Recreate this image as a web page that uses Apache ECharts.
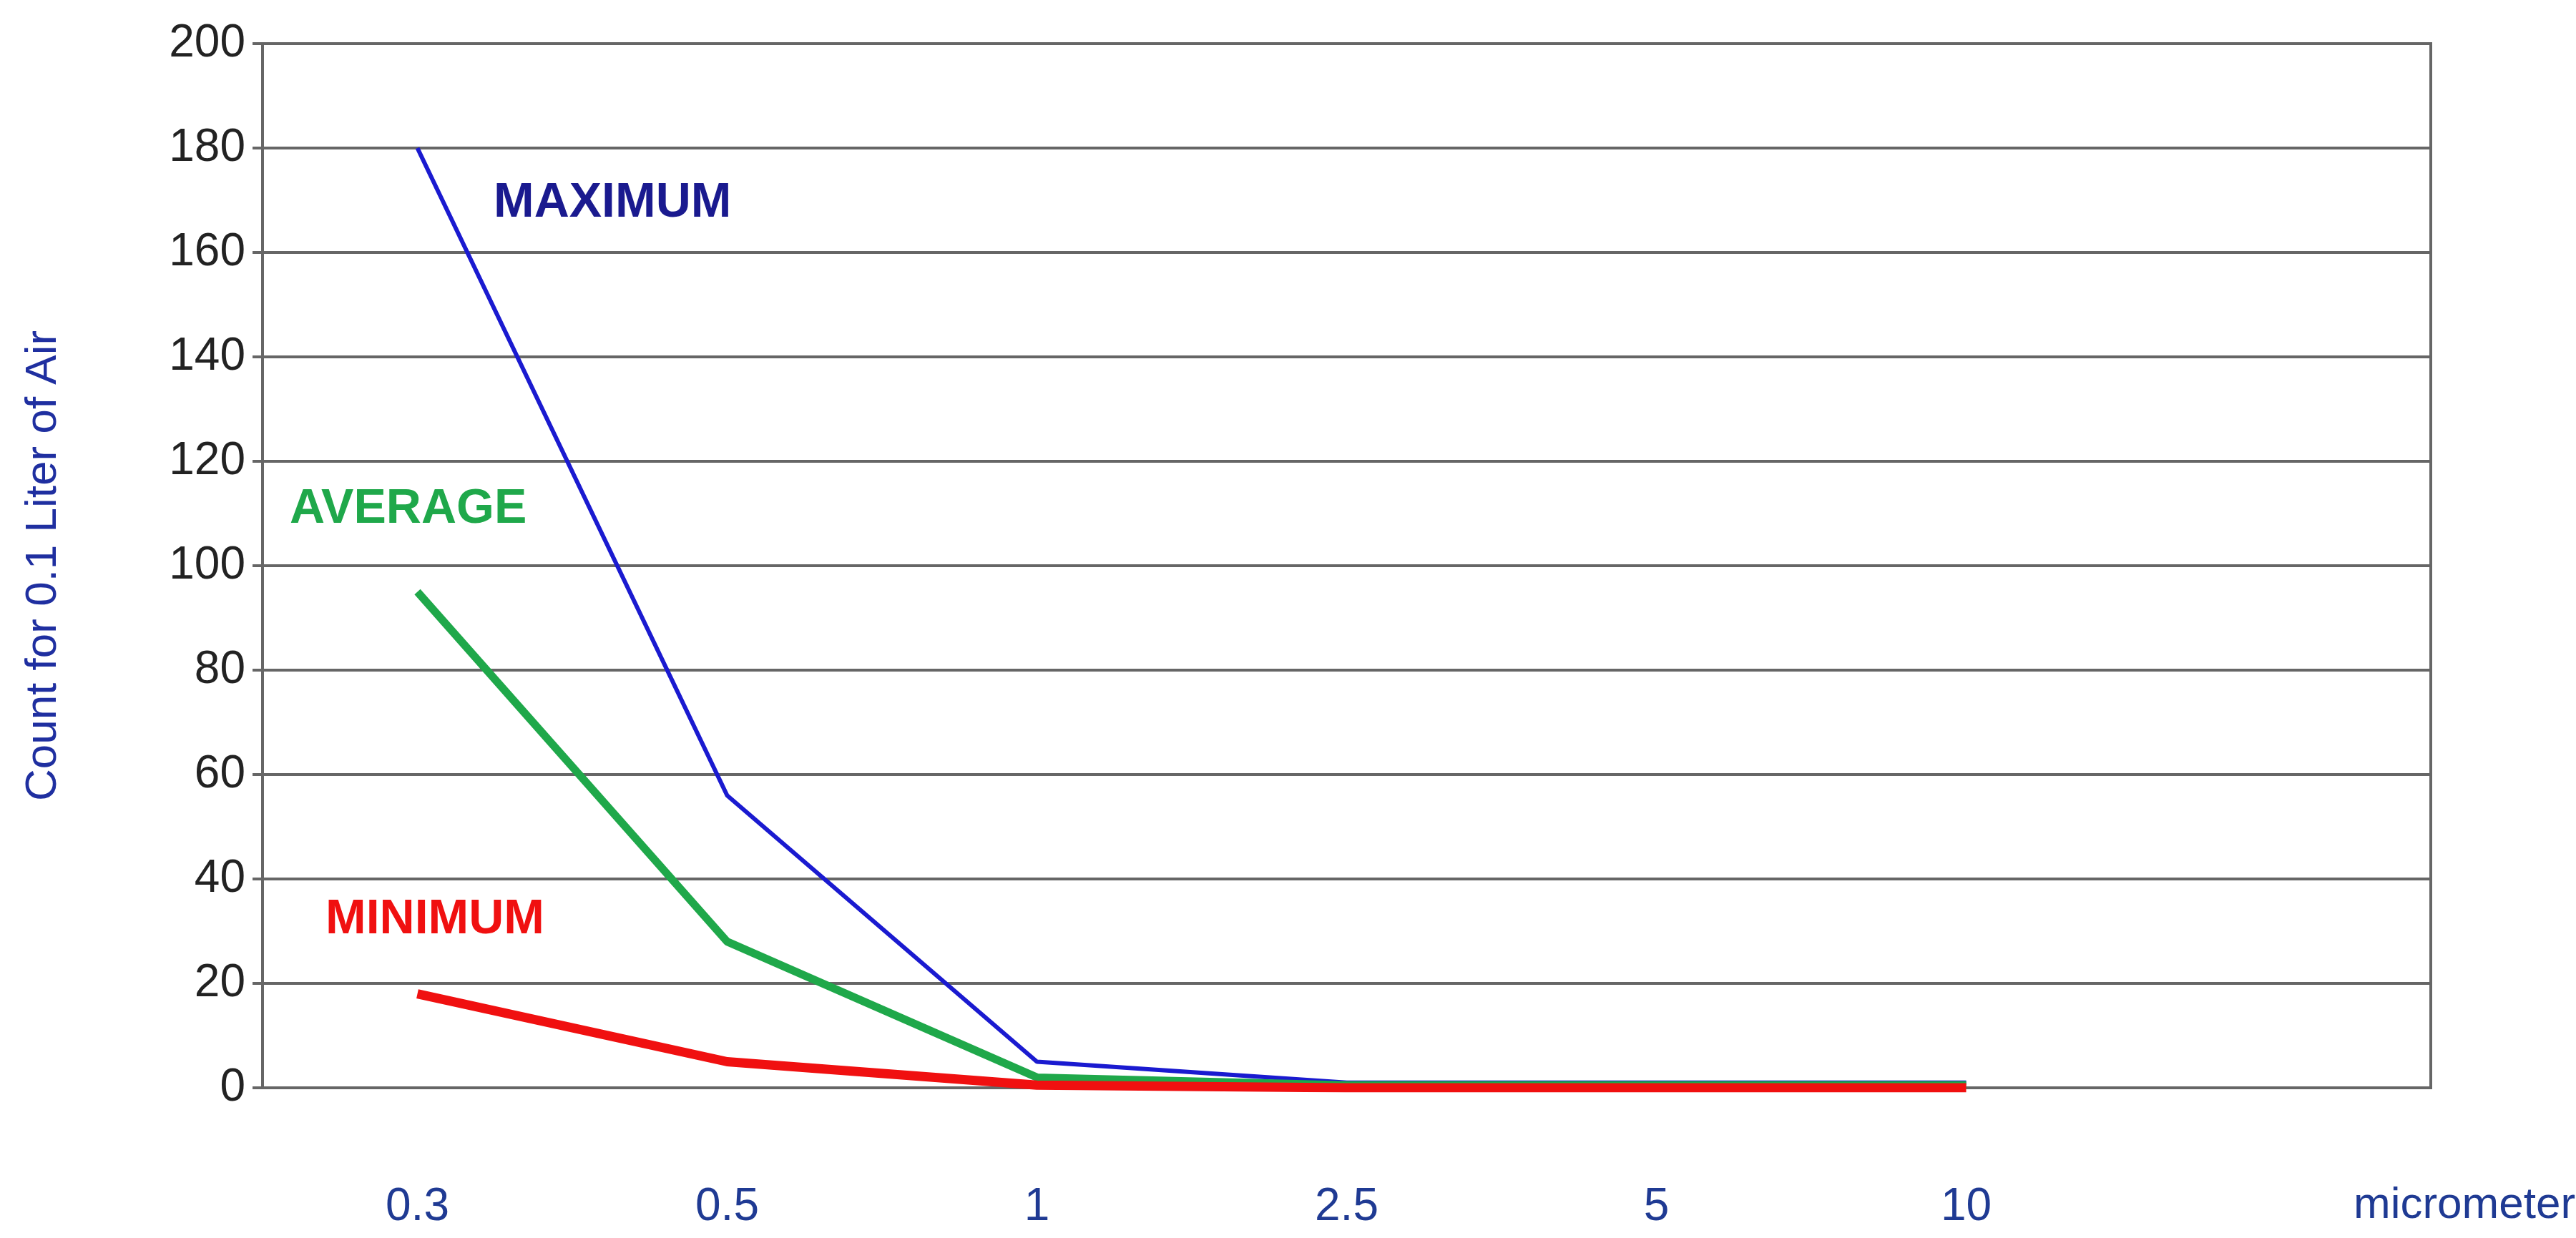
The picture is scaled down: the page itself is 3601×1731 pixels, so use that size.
<!DOCTYPE html>
<html><head><meta charset="utf-8">
<script src="https://cdn.jsdelivr.net/npm/echarts@6/dist/echarts.min.js"></script>
<style>html,body{margin:0;background:#fff}#main{width:3601px;height:1731px}</style>
</head><body><div id="main"></div>
<script>
var sizes = ['0.3', '0.5', '1', '2.5', '5', '10', ''];
var maximum = [180, 56, 5, 1, 1, 1];
var average = [95, 28, 2, 0.5, 0.5, 0.5];
var minimum = [18, 5, 0.5, 0, 0, 0];

var chart = echarts.init(document.getElementById('main'));
var font = 'Liberation Sans, Arial, sans-serif';
chart.setOption({
  animation: false,
  grid: { left: 367, right: 203, top: 61, bottom: 210, show: true, borderColor: '#666', borderWidth: 4,
          containLabel: false, outerBoundsMode: 'none' },
  xAxis: {
    type: 'category', data: sizes, boundaryGap: true,
    axisLine: { lineStyle: { color: '#666', width: 4 } },
    axisTick: { show: false },
    axisLabel: { color: '#1f3a93', fontSize: 64, fontFamily: font, margin: 135 }
  },
  yAxis: {
    type: 'value', min: 0, max: 200, interval: 20,
    axisLine: { show: true, lineStyle: { color: '#666', width: 4 } },
    axisTick: { show: true, length: 14, lineStyle: { color: '#666', width: 4 } },
    splitLine: { lineStyle: { color: '#666', width: 4 } },
    axisLabel: { color: '#222', fontSize: 64, fontFamily: font, margin: 24 },
    name: 'Count for 0.1 Liter of Air', nameLocation: 'middle', nameGap: 275, nameRotate: 90,
    nameTextStyle: { color: '#1f2fa0', fontSize: 62, fontFamily: font }
  },
  series: [
    { name: 'MAXIMUM', type: 'line', data: maximum, symbol: 'none', lineStyle: { color: '#1a1ad0', width: 6 }, z: 3 },
    { name: 'AVERAGE', type: 'line', data: average, symbol: 'none', lineStyle: { color: '#1fa84a', width: 11 }, z: 4 },
    { name: 'MINIMUM', type: 'line', data: minimum, symbol: 'none', lineStyle: { color: '#f01010', width: 13 }, z: 5 }
  ],
  graphic: [
    { type: 'text', left: 690, top: 250, style: { text: 'MAXIMUM', fill: '#1a1a8f', font: 'bold 68px ' + font } },
    { type: 'text', left: 405, top: 678, style: { text: 'AVERAGE', fill: '#1fa84a', font: 'bold 68px ' + font } },
    { type: 'text', left: 455, top: 1252, style: { text: 'MINIMUM', fill: '#f01010', font: 'bold 68px ' + font } },
    { type: 'text', left: 3290, top: 1655, style: { text: 'micrometers', fill: '#1f3a93', font: '62px ' + font } }
  ]
});
</script></body></html>
